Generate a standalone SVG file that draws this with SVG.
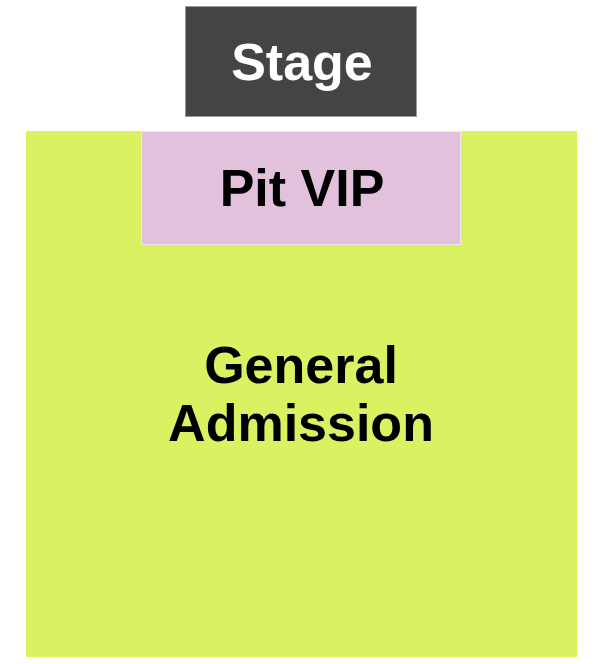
<svg xmlns="http://www.w3.org/2000/svg" width="604" height="664" viewBox="0 0 604 664">
<style>
text{font-family:"Liberation Sans",Arial,sans-serif;font-weight:bold;text-anchor:middle;font-size:52px}
.lbl{fill:#000}
</style>
<rect width="604" height="664" fill="#fff"/>
<g id="general-admission">
<rect x="26" y="131" width="551" height="526" fill="#daf262"/>
<text class="lbl" x="301" y="383">General</text>
<text class="lbl" x="301" y="441" font-size="53">Admission</text>
</g>
<g id="pit-vip">
<rect x="141.5" y="131.5" width="319" height="113" fill="#e1c1dc" stroke="#f0e6ee" stroke-width="1"/>
<text class="lbl" x="302" y="206">Pit VIP</text>
</g>
<g id="stage">
<rect x="185.5" y="6.5" width="231" height="110" fill="#444444" stroke="#9a9a9a" stroke-width="1"/>
<text x="302" y="80" fill="#fff">Stage</text>
</g>
<g id="connectors"/>
</svg>
